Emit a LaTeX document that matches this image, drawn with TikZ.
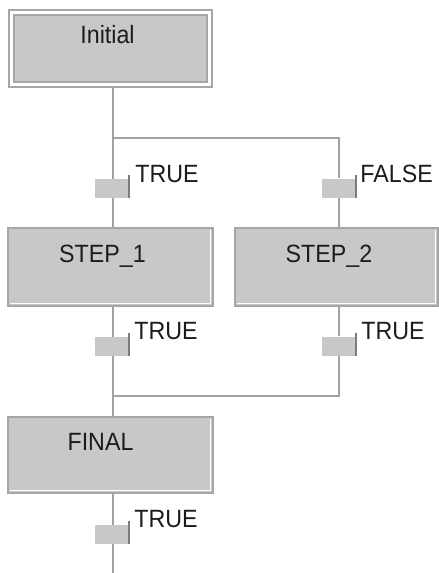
\documentclass[tikz,border=0pt]{standalone}
\usepackage{xcolor}
\usepackage{fontspec}
\usepackage{tikz}
\usetikzlibrary{positioning,backgrounds}
\newfontfamily\sfcdiag[FakeStretch=0.93]{Liberation Sans}
\definecolor{stepFill}{HTML}{C8C8C8}
\definecolor{stepEdge}{HTML}{A6A6A6}
\definecolor{wireGray}{HTML}{A2A2A2}
\definecolor{darkEdge}{HTML}{7C7C7C}
\definecolor{inkGray}{HTML}{1C1C1C}

\begin{document}
\begin{tikzpicture}[
    x=1pt, y=-1pt,
    font=\sfcdiag\fontsize{25}{28}\selectfont,
    stepbox/.style={draw=stepEdge, fill=stepFill, line width=2.5pt, text=inkGray, inner xsep=0pt, inner ysep=0pt, text height=34pt, text depth=44pt},
    initbox/.style={stepbox, line width=2pt, double=white, double distance=3pt, text height=31pt, text depth=41pt},
    trans/.style={fill=stepFill, minimum width=34pt, minimum height=19pt, inner sep=0pt},
    tick/.style={draw=darkEdge, line width=2pt},
    lbl/.style={text=inkGray, inner sep=0pt, anchor=base west},
    wire/.style={draw=wireGray, line width=2pt}
  ]
    \useasboundingbox (0,0) rectangle (439,573);

    % steps
    \node[initbox, minimum width=198pt] (init) at (110.5,48) {Initial\hspace*{6pt}};
    \node[stepbox, minimum width=205pt] (s1) at (110.5,267) {STEP\_1\hspace*{16pt}};
    \node[stepbox, minimum width=203pt] (s2) at (336.5,267) {STEP\_2\hspace*{15pt}};
    \node[stepbox, minimum width=205pt, text height=33pt, text depth=43pt] (fin) at (110.5,455) {FINAL\hspace*{20pt}};

    % transitions
    \node[trans] (t1) at (112,188) {};
    \node[trans] (t2) at (339,188) {};
    \node[trans] (t3) at (112,346) {};
    \node[trans] (t4) at (339,346) {};
    \node[trans] (t5) at (112,534) {};
    \foreach \t in {t1,t2,t3,t4,t5}
      \draw[tick] (\t.south east) -- ([yshift=3pt]\t.north east);

    \node[lbl, below right=4pt and 6pt of t1.north east, anchor=base west] (c1) {TRUE};
    \node[lbl, below right=4pt and 4pt of t2.north east, anchor=base west] (c2) {FALSE};
    \node[lbl, below right=3pt and 5pt of t3.north east, anchor=base west] (c3) {TRUE};
    \node[lbl, below right=3pt and 5pt of t4.north east, anchor=base west] (c4) {TRUE};
    \node[lbl, below right=3pt and 5pt of t5.north east, anchor=base west] (c5) {TRUE};

    \coordinate (split) at (113,138);
    \coordinate (join) at (113,396);
    \coordinate (tail) at (113,573);

    % links
    \begin{scope}[on background layer]
      \draw[wire] (init.south -| split) -- (split) -- (s1.north -| split);
      \draw[wire] (split) -| (t2) -- (s2.north -| t2);
      \draw[wire] (s1.south -| join) -- (join) -- (fin.north -| join);
      \draw[wire] (s2.south -| t4) -- (t4) |- (join);
      \draw[wire] (fin.south -| tail) -- (tail);
    \end{scope}

    % bevel
    \foreach \n in {s1,s2,fin}
      \draw[white, line width=1pt] ([xshift=3pt,yshift=3.5pt]\n.south west) -- ([xshift=-3.5pt,yshift=3.5pt]\n.south east) -- ([xshift=-3.5pt,yshift=-3pt]\n.north east);
  \end{tikzpicture}
\end{document}
